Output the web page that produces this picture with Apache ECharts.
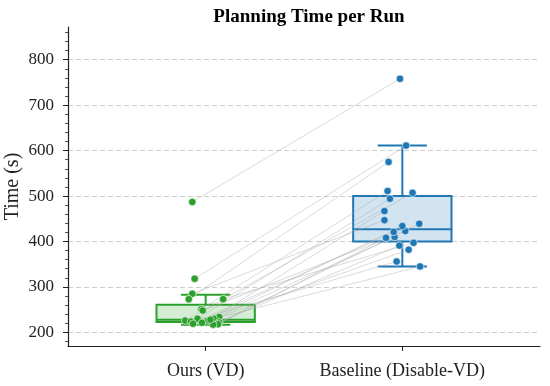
<!DOCTYPE html>
<html><head><meta charset="utf-8">
<script src="https://cdn.jsdelivr.net/npm/echarts@6/dist/echarts.min.js"></script>
<style>html,body{margin:0;padding:0;background:#fff}#c{width:550px;height:386px}</style>
</head><body><div id="c"></div>
<script>
// Categories and positions
const categories = ['Ours (VD)', 'Baseline (Disable-VD)'];
const catPos = [0, 1];
// Per-run times (paired by index)
const oursTimes = [487, 318, 285, 273, 273, 251, 248, 234, 230, 230, 226, 226, 224, 222, 221, 219, 218, 217, 228];
const oursJitter = [-0.068, -0.056, -0.068, -0.086, 0.089, -0.022, -0.015, 0.069, -0.041, 0.041, -0.104, 0.012, -0.075, 0.069, -0.019, -0.064, 0.063, 0.038, 0.024];
const baseTimes = [758, 611, 447, 575, 397, 511, 423, 382, 494, 410, 507, 467, 356, 439, 434, 421, 408, 391, 345];
const baseJitter = [-0.012, 0.019, -0.091, -0.07, 0.057, -0.075, 0.015, 0.032, -0.063, -0.039, 0.052, -0.091, -0.029, 0.086, 0, -0.044, -0.083, -0.015, 0.09];
// Box statistics: [lower whisker, Q1, median, Q3, upper whisker]
const oursBox = [217, 223, 228, 261, 283];
const baseBox = [345, 400, 427, 500, 611];
// Y ticks
const yMajorTicks = [200, 300, 400, 500, 600, 700, 800];
const yMinorTicks = [180, 220, 240, 260, 280, 320, 340, 360, 380, 420, 440, 460, 480, 520, 540, 560, 580, 620, 640, 660, 680, 720, 740, 760, 780, 820, 840, 860];

const GREEN = '#2ca02c', BLUE = '#1f77b4';
const serif = '"Liberation Serif", "DejaVu Serif", serif';

const boxData = [[catPos[0]].concat(oursBox), [catPos[1]].concat(baseBox)];
const boxColors = [GREEN, BLUE];
const boxFills = ['rgba(44,160,44,0.2)', 'rgba(31,119,180,0.2)'];

const pairData = oursTimes.map((v, i) => [catPos[0] + oursJitter[i], v, catPos[1] + baseJitter[i], baseTimes[i]]);
const oursPts = oursTimes.map((v, i) => [catPos[0] + oursJitter[i], v]);
const basePts = baseTimes.map((v, i) => [catPos[1] + baseJitter[i], v]);

const chart = echarts.init(document.getElementById('c'), null, {renderer: 'canvas'});
chart.setOption({
  animation: false,
  backgroundColor: '#fff',
  title: {
    text: 'Planning Time per Run', left: 304, top: 3, textAlign: 'center',
    textStyle: {fontFamily: serif, fontWeight: 'bold', fontSize: 19, color: '#000'}
  },
  grid: {left: 68, right: 10, top: 27, bottom: 40, containLabel: false, outerBoundsMode: 'none'},
  xAxis: {
    type: 'value', min: -0.7, max: 1.7,
    axisLine: {show: true, onZero: false, lineStyle: {color: '#222', width: 1.2}},
    axisTick: {show: true, customValues: catPos, length: 5, lineStyle: {color: '#222', width: 1}},
    axisLabel: {customValues: catPos, formatter: v => categories[Math.round(v)], fontFamily: serif, fontSize: 18, color: '#222', margin: 16},
    splitLine: {show: false}
  },
  yAxis: [{
    type: 'value', min: 170, max: 872,
    name: 'Time (s)', nameLocation: 'middle', nameGap: 45, nameMoveOverlap: false,
    nameTextStyle: {fontFamily: serif, fontSize: 20, color: '#222'},
    axisLine: {show: true, onZero: false, lineStyle: {color: '#222', width: 1.2}},
    axisTick: {show: true, customValues: yMajorTicks, length: 5, lineStyle: {color: '#222', width: 1}},
    axisLabel: {customValues: yMajorTicks, fontFamily: serif, fontSize: 17, color: '#222', margin: 14},
    splitLine: {show: true, lineStyle: {color: '#c8c8c8', type: [5, 3], width: 0.9}}
  }, {
    type: 'value', min: 170, max: 872, position: 'left', offset: 0,
    axisLine: {show: false, onZero: false},
    axisTick: {show: true, customValues: yMinorTicks, length: 3, lineStyle: {color: '#222', width: 0.8}},
    axisLabel: {show: false},
    splitLine: {show: false}
  }],
  series: [{
    type: 'custom', z: 2,
    data: boxData,
    renderItem: function (params, api) {
      const i = params.dataIndex;
      const x = api.value(0);
      const lo = api.value(1), q1 = api.value(2), med = api.value(3), q3 = api.value(4), hi = api.value(5);
      const hw = 0.25, cw = 0.125;
      const pTL = api.coord([x - hw, q3]), pBR = api.coord([x + hw, q1]);
      const c = boxColors[i];
      const ls = {stroke: c, lineWidth: 2};
      const line = (a, b) => ({type: 'line', shape: {x1: a[0], y1: a[1], x2: b[0], y2: b[1]}, style: ls});
      return {type: 'group', children: [
        {type: 'rect', shape: {x: pTL[0], y: pTL[1], width: pBR[0] - pTL[0], height: pBR[1] - pTL[1]}, style: {fill: boxFills[i], stroke: c, lineWidth: 2}},
        line(api.coord([x - hw, med]), api.coord([x + hw, med])),
        line(api.coord([x, q3]), api.coord([x, hi])),
        line(api.coord([x, q1]), api.coord([x, lo])),
        line(api.coord([x - cw, hi]), api.coord([x + cw, hi])),
        line(api.coord([x - cw, lo]), api.coord([x + cw, lo]))
      ]};
    }
  }, {
    type: 'custom', z: 3,
    data: pairData,
    renderItem: function (params, api) {
      const a = api.coord([api.value(0), api.value(1)]);
      const b = api.coord([api.value(2), api.value(3)]);
      return {type: 'line', shape: {x1: a[0], y1: a[1], x2: b[0], y2: b[1]}, style: {stroke: 'rgba(170,170,170,0.55)', lineWidth: 0.8}};
    }
  }, {
    type: 'scatter', z: 4, data: oursPts, symbolSize: 7.5,
    itemStyle: {color: GREEN, borderColor: '#fff', borderWidth: 0.6, opacity: 1}
  }, {
    type: 'scatter', z: 4, data: basePts, symbolSize: 7.5,
    itemStyle: {color: BLUE, borderColor: '#fff', borderWidth: 0.6, opacity: 1}
  }]
});
</script></body></html>
